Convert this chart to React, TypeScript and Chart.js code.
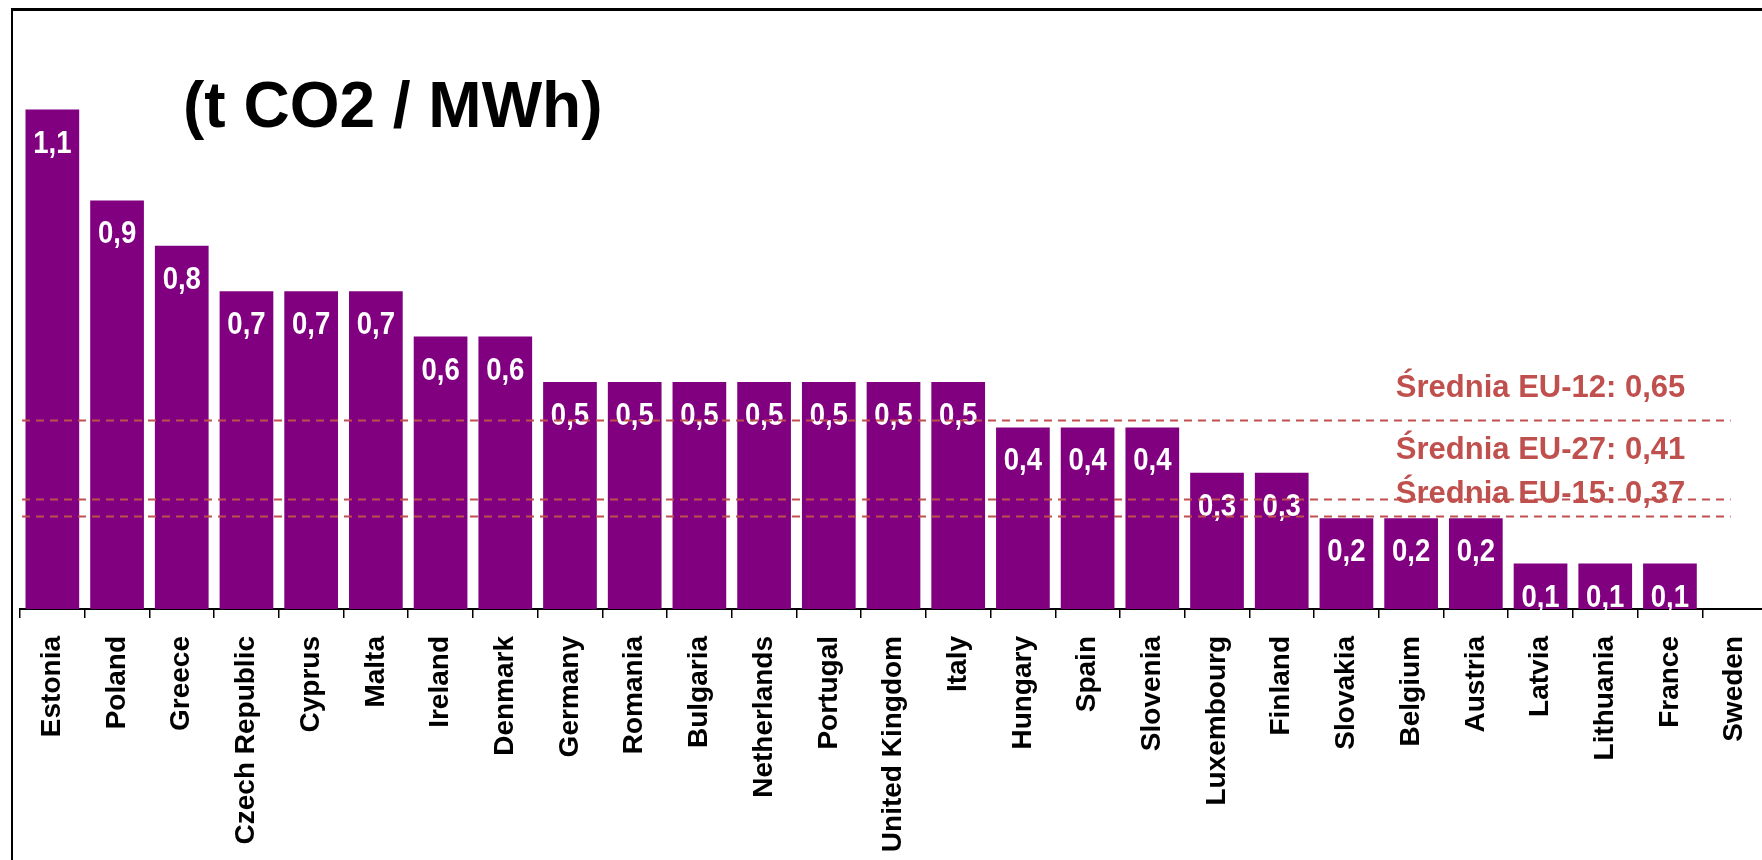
import React, { useEffect, useRef } from "react";
import { Chart, registerables } from "chart.js";

Chart.register(...registerables);

// ---- data ----
const countries = [
  "Estonia", "Poland", "Greece", "Czech Republic", "Cyprus", "Malta", "Ireland",
  "Denmark", "Germany", "Romania", "Bulgaria", "Netherlands", "Portugal",
  "United Kingdom", "Italy", "Hungary", "Spain", "Slovenia", "Luxembourg",
  "Finland", "Slovakia", "Belgium", "Austria", "Latvia", "Lithuania", "France", "Sweden",
];
const emissions = [
  1.1, 0.9, 0.8, 0.7, 0.7, 0.7, 0.6, 0.6, 0.5, 0.5, 0.5, 0.5, 0.5, 0.5, 0.5,
  0.4, 0.4, 0.4, 0.3, 0.3, 0.2, 0.2, 0.2, 0.1, 0.1, 0.1, 0,
];
const averageLabels = ["Średnia EU-12: 0,65", "Średnia EU-27: 0,41", "Średnia EU-15: 0,37"];
// vertical level at which each dashed average line is drawn in the picture
const averageLineLevels = [0.4165, 0.243, 0.2055];
const titleText = "(t CO2 / MWh)";

// ---- styling / layout (not data) ----
const BAR_COLOR = "#800080";
const AVG_COLOR = "#C0504D";
const avgLabelOffsets = [-23, -39.5, -12.5];

export default function App() {
  const canvasRef = useRef<HTMLCanvasElement | null>(null);

  useEffect(() => {
    const canvas = canvasRef.current;
    if (!canvas) return;

    const overlay = {
      id: "overlay",
      afterDatasetsDraw(chart: any) {
        const ctx = chart.ctx;
        const meta = chart.getDatasetMeta(0);
        const xs = chart.scales.x;
        const ys = chart.scales.y;
        ctx.save();
        // value labels (narrow bold look)
        ctx.fillStyle = "#ffffff";
        ctx.textAlign = "center";
        ctx.textBaseline = "alphabetic";
        ctx.font = "bold 32px 'Liberation Sans', Arial, sans-serif";
        meta.data.forEach((bar: any, i: number) => {
          const v = emissions[i];
          if (v > 0) {
            ctx.save();
            ctx.translate(bar.x, bar.y + 43);
            ctx.scale(0.86, 1);
            ctx.fillText(v.toFixed(1).replace(".", ","), 0, 0);
            ctx.restore();
          }
        });
        // average labels
        const labelX = xs.getPixelForValue(23);
        ctx.fillStyle = AVG_COLOR;
        ctx.font = "bold 31px 'Liberation Sans', Arial, sans-serif";
        averageLabels.forEach((t, i) => {
          const y = ys.getPixelForValue(averageLineLevels[i]) + avgLabelOffsets[i];
          ctx.fillText(t, labelX, y);
        });
        // dashed lines
        ctx.strokeStyle = AVG_COLOR;
        ctx.lineWidth = 2;
        ctx.setLineDash([8, 6]);
        const x0 = chart.chartArea.left + 2;
        const x1 = xs.getPixelForValue(countries.length - 1) - 4;
        averageLineLevels.forEach((lv) => {
          const y = Math.round(ys.getPixelForValue(lv)) + 0.5;
          ctx.beginPath();
          ctx.moveTo(x0, y);
          ctx.lineTo(x1, y);
          ctx.stroke();
        });
        ctx.restore();
      },
      afterDraw(chart: any) {
        const ctx = chart.ctx;
        ctx.save();
        ctx.fillStyle = "#000";
        ctx.font = "bold 64px 'Liberation Sans', Arial, sans-serif";
        ctx.textAlign = "left";
        ctx.textBaseline = "alphabetic";
        ctx.fillText(titleText, 183, 127);
        ctx.restore();
      },
    };

    const chart = new Chart(canvas, {
      type: "bar",
      data: {
        labels: countries,
        datasets: [
          {
            data: emissions,
            backgroundColor: BAR_COLOR,
            borderWidth: 0,
            barPercentage: 0.83,
            categoryPercentage: 1.0,
          },
        ],
      },
      options: {
        animation: false,
        responsive: false,
        maintainAspectRatio: false,
        layout: { padding: { left: 20, right: 33, top: 64.2, bottom: 0 } },
        plugins: {
          legend: { display: false },
          tooltip: { enabled: false },
          title: { display: false },
        },
        scales: {
          y: {
            display: false,
            min: 0,
            max: 1.2,
          },
          x: {
            offset: true,
            afterFit: (scale: any) => {
              scale.height = 251;
            },
            border: { display: true, color: "#000", width: 2 },
            grid: {
              display: true,
              offset: true,
              drawOnChartArea: false,
              drawTicks: true,
              tickLength: 9,
              color: "#000",
              lineWidth: 1.5,
            },
            ticks: {
              autoSkip: false,
              minRotation: 90,
              maxRotation: 90,
              padding: 18,
              color: "#000",
              font: { family: "'Liberation Sans', Arial, sans-serif", size: 28, weight: "bold" },
            },
          },
        },
      },
      plugins: [overlay],
    });

    return () => chart.destroy();
  }, []);

  return (
    <div
      style={{
        position: "fixed",
        left: 0,
        top: 0,
        width: "1762px",
        height: "860px",
        overflow: "hidden",
        background: "#fff",
      }}
    >
      <canvas
        ref={canvasRef}
        width={1800}
        height={860}
        style={{ position: "absolute", left: 0, top: 0, width: "1800px", height: "860px" }}
      />
      <div
        style={{
          position: "absolute",
          left: "11px",
          top: "8px",
          width: "1800px",
          height: "900px",
          borderTop: "3px solid #000",
          borderLeft: "2px solid #000",
          pointerEvents: "none",
        }}
      />
    </div>
  );
}
